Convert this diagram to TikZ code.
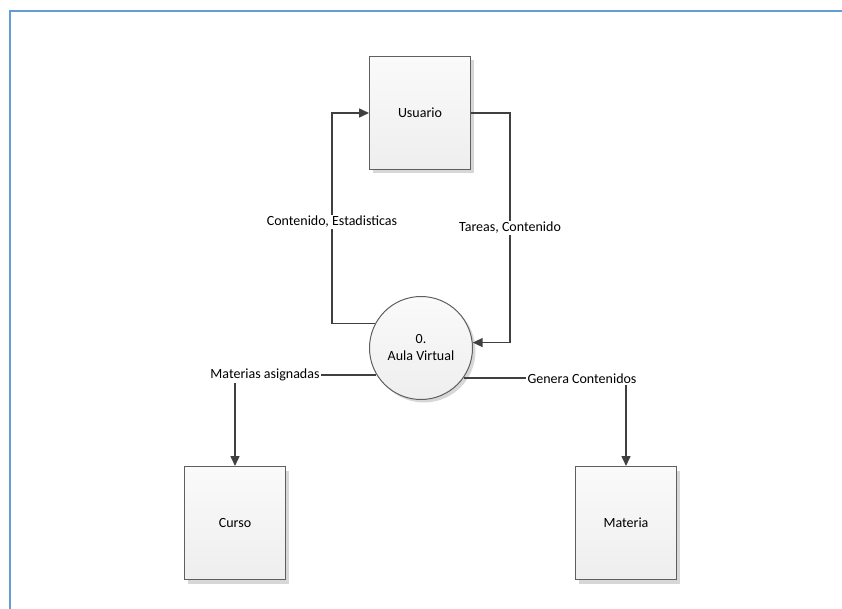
\documentclass[tikz,border=0pt]{standalone}
\usepackage{fontspec}
\setmainfont{Carlito}
\usetikzlibrary{arrows.meta,shadows}
\definecolor{frameblue}{RGB}{98,157,214}
\definecolor{edge}{RGB}{64,64,64}
\definecolor{outline}{RGB}{95,95,95}
\definecolor{boxtop}{RGB}{250,250,250}
\definecolor{boxbot}{RGB}{238,238,238}
\definecolor{shade}{RGB}{215,215,215}
\tikzset{
  entity/.style={draw=outline, line width=1pt, top color=boxtop, bottom color=boxbot,
    minimum width=101pt, minimum height=113pt, inner sep=0pt,
    drop shadow={shadow xshift=3pt, shadow yshift=-4pt, fill=shade, opacity=1}},
  process/.style={draw=outline, line width=1pt, circle, top color=boxtop, bottom color=boxbot,
    minimum size=103pt, inner sep=0pt, align=center,
    drop shadow={shadow xshift=3pt, shadow yshift=-3pt, fill=shade, opacity=1}},
  flow/.style={draw=edge, line width=1.5pt, -{Triangle[length=10pt,width=9pt]}},
  lab/.style={fill=white, inner sep=1.5pt, font=\fontsize{14}{16}\selectfont},
  txt/.style={font=\fontsize{14}{17}\selectfont}
}
\begin{document}
\begin{tikzpicture}[x=1pt,y=-1pt]
  \useasboundingbox (0,0) rectangle (842,609);
  % page frame
  \draw[frameblue, line width=2.5pt] (10,609) -- (10,11) -- (842,11);

  % external entities and the process
  \node[entity, txt] (user) at (420,113) {Usuario};
  \node[entity, txt] (curso) at (235,523) {Curso};
  \node[entity, txt] (materia) at (626,523) {Materia};
  \node[process, txt] (proc) at (421,348) {0.\\Aula Virtual};

  % routing corners
  \coordinate (lc) at (332,113);
  \coordinate (rc) at (510,113);

  % data flows
  \draw[flow] (proc.152) -| (lc) -- (user.west);
  \draw[flow] (user.east) -- (rc) |- (proc.6);
  \draw[flow] (proc.211) -| (curso.north);
  \draw[flow] (proc.325) -| (materia.north);

  % flow labels
  \node[lab] (l1) at (332,222) {Contenido, Estadisticas};
  \node[lab] (l2) at (510,228) {Tareas, Contenido};
  \node[lab] (l3) at (265,375) {Materias asignadas};
  \node[lab] (l4) at (582,379) {Genera Contenidos};
\end{tikzpicture}
\end{document}
